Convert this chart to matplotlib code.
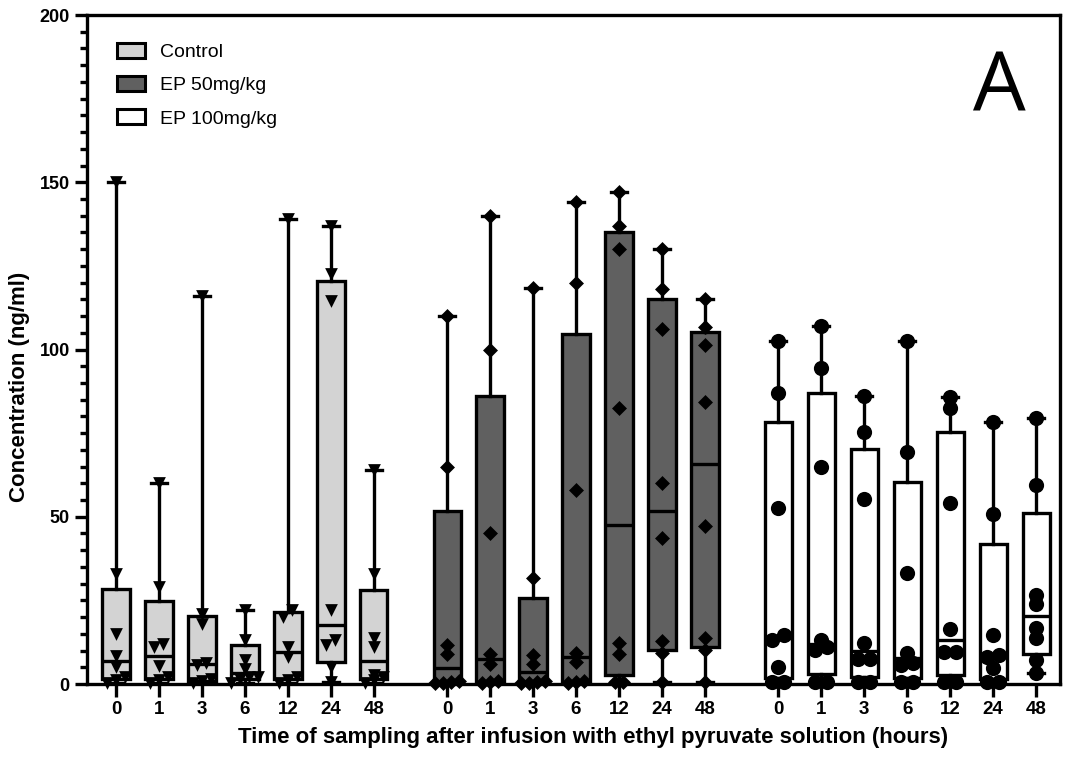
import numpy as np
import matplotlib.pyplot as plt
from matplotlib.patches import Patch
from matplotlib.ticker import MultipleLocator

plt.rcParams['font.family'] = ['Liberation Sans', 'DejaVu Sans']

hours = ['0', '1', '3', '6', '12', '24', '48']
groups = ['Control', 'EP 50mg/kg', 'EP 100mg/kg']

# concentration (ng/ml) for each animal, one list per sampling time
control = [
    [150, 33, 15, 8.5, 5, 2.0, 1.2, 0.3],
    [60, 29, 12, 11, 5.5, 2.0, 1.2, 0.3],
    [116, 21, 18, 6.4, 5.6, 1.6, 0.8, 0.3],
    [22, 13.2, 7.2, 4.4, 2.0, 2.0, 1.5, 0.3],
    [139, 22, 20, 11, 8, 2.0, 1.2, 0.3],
    [137, 122.6, 114.5, 22, 13.2, 11.7, 5, 0.5],
    [64, 33, 13.7, 11, 2.7, 2.0, 1.2, 0.3],
]
ep50 = [
    [110, 65, 11.7, 8.9, 0.8, 0.6, 0.4, 0.2],
    [140, 100, 45, 9.1, 6.1, 0.8, 0.5, 0.3],
    [118.5, 31.6, 8.6, 6.1, 0.8, 0.6, 0.4, 0.2],
    [144, 120, 58, 9.3, 6.6, 0.8, 0.5, 0.3],
    [147, 137, 130, 82.6, 12.4, 9.1, 0.5, 0.5],
    [130, 118, 106, 60, 43.6, 13, 9.3, 0.5],
    [115, 106.6, 101.3, 84.3, 47.1, 13.7, 10.1, 0.5],
]
ep100 = [
    [102.6, 87, 52.5, 14.6, 13.2, 5.2, 0.5, 0.5],
    [107, 94.4, 65, 13.2, 11, 10.2, 0.5, 0.5],
    [86, 75.4, 55.2, 12.2, 7.4, 7.4, 0.5, 0.5],
    [102.6, 69.5, 33.1, 9.4, 6.2, 5.7, 0.5, 0.5],
    [85.7, 82.4, 54.2, 16.4, 9.7, 9.7, 0.5, 0.5],
    [78.4, 50.8, 14.6, 8.7, 8.2, 4.7, 0.5, 0.5],
    [79.4, 59.5, 26.6, 23.9, 16.6, 13.7, 7.2, 3.2],
]
data = [control, ep50, ep100]

fills = ['#d3d3d3', '#606060', 'white']
markers = ['v', 'D', 'o']
marker_px = [12, 11, 15]
msize = [84, 58, 120]
group_step = 7.7
lw = 2.4

fig = plt.figure(figsize=(10.73, 7.59), dpi=100)
ax = fig.add_axes([0.0811, 0.0988, 0.9069, 0.8814])
ax.set_xlim(-0.674, 21.96)
ax.set_ylim(0, 200)

bbox = ax.get_window_extent()
ppx = bbox.width / (21.96 + 0.674)
ppy = bbox.height / 200


def swarm(vals, size):
    # spread points sideways when they sit on nearly the same level
    vals = np.asarray(vals, float)
    order = np.argsort(vals)
    rows = []
    for i in order:
        if rows and (vals[i] - vals[rows[-1][0]]) * ppy < 0.6 * size:
            rows[-1].append(i)
        else:
            rows.append([i])
    offs = np.zeros(len(vals))
    for row in rows:
        k = len(row)
        for j, i in enumerate(row):
            offs[i] = (j - (k - 1) / 2) * 0.75 * size / ppx
    return offs


ticks = []
for g, series in enumerate(data):
    pos = g * group_step + np.arange(len(hours))
    ticks.extend(pos)
    stats = []
    for v in series:
        q1, med, q3 = np.percentile(v, [25, 50, 75], method='weibull')
        stats.append(dict(med=med, q1=q1, q3=q3, whislo=min(v), whishi=max(v), fliers=[]))
    ax.bxp(stats, positions=pos, widths=0.63, capwidths=0.37, patch_artist=True,
           showfliers=False, manage_ticks=False,
           boxprops=dict(facecolor=fills[g], edgecolor='black', linewidth=lw),
           whiskerprops=dict(color='black', linewidth=lw),
           capprops=dict(color='black', linewidth=lw),
           medianprops=dict(color='black', linewidth=lw))
    for p, v in zip(pos, series):
        ax.scatter(p + swarm(v, marker_px[g]), v, marker=markers[g], s=msize[g],
                   color='black', linewidths=0, zorder=4, clip_on=False)

ax.set_xticks(ticks)
ax.set_xticklabels(hours * 3, fontsize=13.5, fontweight='bold')
ax.yaxis.set_major_locator(MultipleLocator(50))
ax.yaxis.set_minor_locator(MultipleLocator(5))
for lab in ax.get_yticklabels():
    lab.set_fontweight('bold')
    lab.set_fontsize(13)
ax.tick_params(axis='both', which='major', length=9, width=lw, pad=3.5)
ax.tick_params(axis='y', which='minor', length=5, width=lw)
for sp in ax.spines.values():
    sp.set_linewidth(lw)

fig.text(20 / 1073, 1 - 387 / 759, 'Concentration (ng/ml)', rotation=90,
         ha='center', va='center', fontsize=16, fontweight='bold')
fig.text(593 / 1073, 1 - 738 / 759,
         'Time of sampling after infusion with ethyl pyruvate solution (hours)',
         ha='center', va='center', fontsize=16, fontweight='bold')

handles = [Patch(facecolor=f, edgecolor='black', linewidth=2.2) for f in fills]
ax.legend(handles, groups, loc='upper left', bbox_to_anchor=(0.031, 0.958),
          frameon=False, fontsize=14, borderpad=0, borderaxespad=0,
          handlelength=1.44, handleheight=0.77, handletextpad=0.77, labelspacing=0.78)

fig.text(999 / 1073, 1 - 111.7 / 759, 'A', fontsize=60, family='Open Sans',
         ha='center', va='baseline')

fig.savefig('out.png', dpi=100)
